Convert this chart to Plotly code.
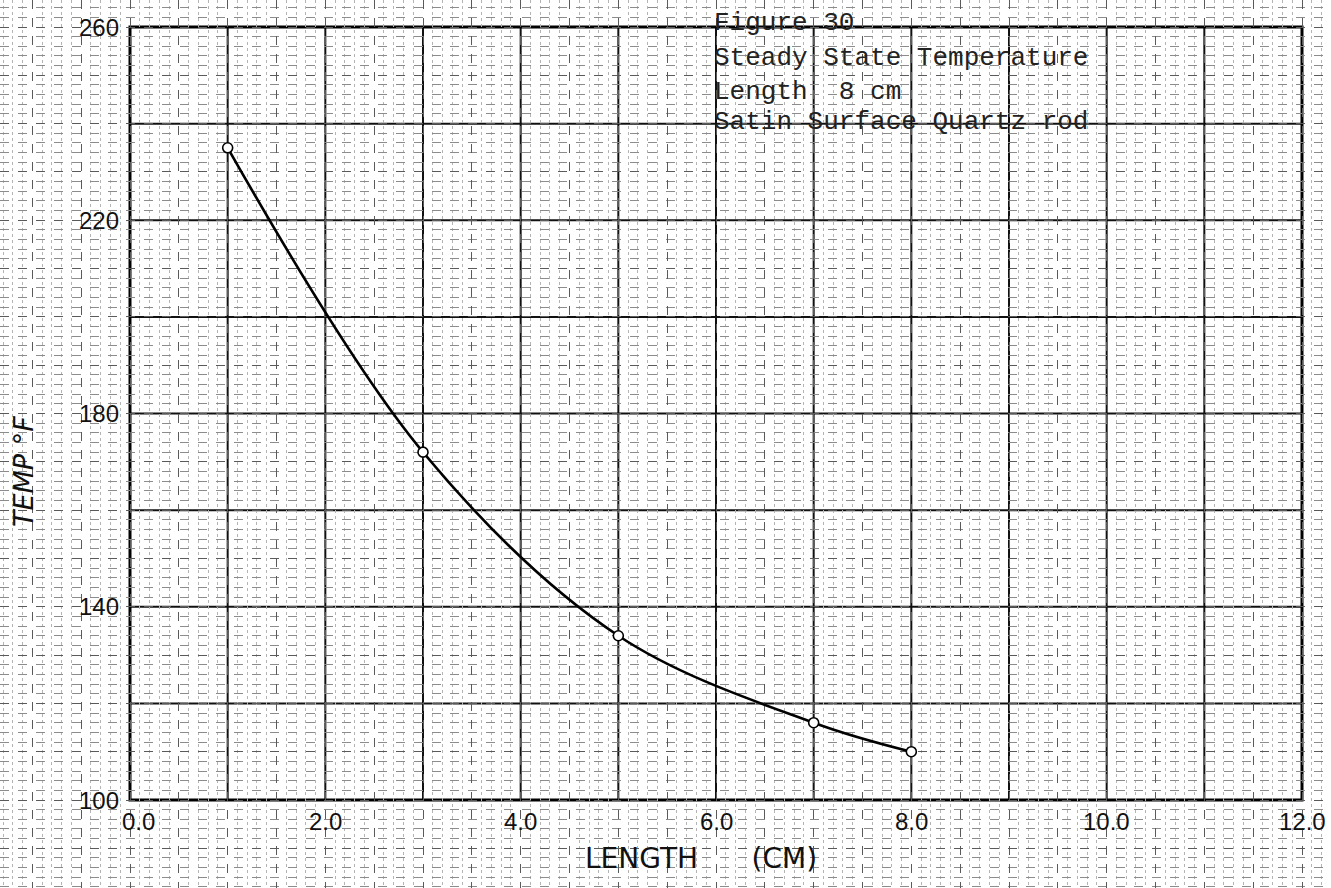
import plotly.graph_objects as go

# Measured steady-state temperatures along the rod
length_cm = [1, 3, 5, 7, 8]
temp_f = [235, 172, 134, 116, 110]

# Axis tick labels
x_ticks = [0, 2, 4, 6, 8, 10, 12]
x_tick_text = ["0.0", "2.0", "4.0", "6.0", "8.0", "10.0", "12.0"]
y_ticks = [100, 140, 180, 220, 260]
y_tick_text = ["100", "140", "180", "220", "260"]

# Caption block
caption_lines = [
    "Figure 30",
    "Steady State Temperature",
    "Length  8 cm",
    "Satin Surface Quartz rod",
]

W, H = 1331, 888
X0, X1 = 0, 12          # framed plotting box
Y0, Y1 = 100, 260
BOX_LEFT, BOX_RIGHT = 130, 1302
BOX_TOP, BOX_BOTTOM = 27, 800

px_x = (BOX_RIGHT - BOX_LEFT) / (X1 - X0)
px_y = (BOX_BOTTOM - BOX_TOP) / (Y1 - Y0)
x_range = [X0 - BOX_LEFT / px_x, X1 + (W - BOX_RIGHT) / px_x]
y_range = [Y0 - (H - BOX_BOTTOM) / px_y, Y1 + BOX_TOP / px_y]

fig = go.Figure()

# Heavy graph-paper rulings inside the frame
shapes = []
for xv in range(X0 + 1, X1):
    shapes.append(dict(type="line", xref="x", yref="y", x0=xv, x1=xv, y0=Y0, y1=Y1,
                       line=dict(color="#111111", width=2), layer="below"))
for yv in range(Y0 + 20, Y1, 20):
    shapes.append(dict(type="line", xref="x", yref="y", x0=X0, x1=X1, y0=yv, y1=yv,
                       line=dict(color="#111111", width=2), layer="below"))
shapes.append(dict(type="rect", xref="x", yref="y", x0=X0, x1=X1, y0=Y0, y1=Y1,
                   line=dict(color="#000000", width=3), layer="below"))

# Smooth curve through the readings
fig.add_trace(go.Scatter(
    x=length_cm, y=temp_f, mode="lines",
    line=dict(color="#000000", width=2.6, shape="spline", smoothing=1.0),
    hoverinfo="skip", showlegend=False,
))
fig.add_trace(go.Scatter(
    x=length_cm, y=temp_f, mode="markers",
    marker=dict(symbol="circle", size=10, color="white",
                line=dict(color="#000000", width=1.6)),
    showlegend=False,
))

annotations = []
for xv, txt in zip(x_ticks, x_tick_text):
    annotations.append(dict(x=xv, y=Y0, xref="x", yref="y", text=txt, showarrow=False,
                            xanchor="center", yanchor="middle", yshift=-21,
                            xshift=8 if xv == X0 else 0,
                            font=dict(family="Liberation Sans", size=24, color="#111111")))
for yv, txt in zip(y_ticks, y_tick_text):
    annotations.append(dict(x=X0, y=yv, xref="x", yref="y", text=txt, showarrow=False,
                            xanchor="right", yanchor="middle", xshift=-9,
                            font=dict(family="Liberation Sans", size=24, color="#111111")))

# Axis titles
annotations.append(dict(x=(X0 + X1) / 2 - 0.15, y=Y0, xref="x", yref="y",
                        text="LENGTH\u00a0\u00a0\u00a0\u00a0\u00a0\u00a0(CM)",
                        showarrow=False, xanchor="center", yanchor="middle", yshift=-58,
                        font=dict(family="DejaVu Sans", size=28, color="#111111")))
annotations.append(dict(x=x_range[0], y=168, xref="x", yref="y",
                        text="<i>TEMP °F</i>", textangle=-90, showarrow=False,
                        xanchor="left", yanchor="middle", xshift=6,
                        font=dict(family="DejaVu Sans", size=27, color="#111111")))

# Typed caption
caption_y = [260.8, 253.6, 246.5, 240.3]
for line, yv in zip(caption_lines, caption_y):
    annotations.append(dict(x=5.96, y=yv, xref="x", yref="y", text=line, showarrow=False,
                            xanchor="left", yanchor="middle",
                            font=dict(family="Liberation Mono", size=26, color="#222222")))

axis_common = dict(showticklabels=False, ticks="", zeroline=False, showline=False,
                   showgrid=True, fixedrange=True)

fig.update_layout(
    width=W, height=H,
    margin=dict(l=0, r=0, t=0, b=0),
    paper_bgcolor="white", plot_bgcolor="white",
    showlegend=False,
    xaxis=dict(range=x_range, tick0=0, dtick=0.5, gridcolor="#5a5a5a", gridwidth=1,
               griddash="dash",
               minor=dict(tick0=0, dtick=0.1, showgrid=True, gridcolor="#b4b4b4",
                          gridwidth=1, griddash="dot"),
               **axis_common),
    yaxis=dict(range=y_range, tick0=0, dtick=10, gridcolor="#5a5a5a", gridwidth=1,
               griddash="dash",
               minor=dict(tick0=0, dtick=2, showgrid=True, gridcolor="#8c8c8c",
                          gridwidth=1, griddash="dash"),
               **axis_common),
    shapes=shapes,
    annotations=annotations,
)

fig.write_html("out.html")
